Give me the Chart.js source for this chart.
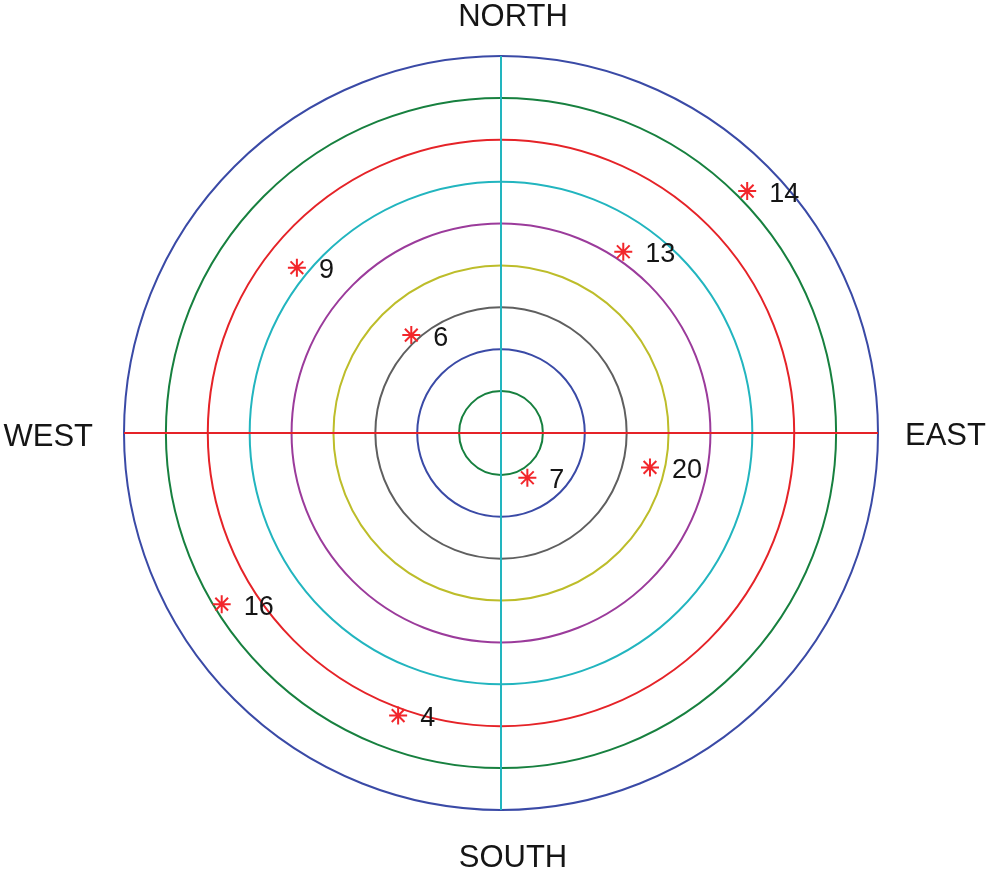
<!DOCTYPE html>
<html>
<head>
<meta charset="utf-8">
<script src="https://cdn.jsdelivr.net/npm/chart.js@4.4.1/dist/chart.umd.min.js"></script>
<style>
  html, body { margin: 0; padding: 0; background: #fff; }
  #wrap { width: 988px; height: 872px; }
</style>
</head>
<body>
<div id="wrap"><canvas id="polarChart"></canvas></div>
<script>
// compass labels, clockwise from the top
const directions = ['NORTH', 'EAST', 'SOUTH', 'WEST'];

// range rings 1..9, colours from the inner ring outward
const ringColors = ['#17803f', '#3a4aa6', '#5f5f5f', '#bdbd2a', '#9b3b9b', '#22b5bf', '#e52328', '#17803f', '#3a4aa6'];

// targets: id, bearing (deg clockwise from north), range (ring units)
const targetIds = ['14', '13', '9', '6', '7', '20', '16', '4'];
const targetBearings = [45.5, 34, 309, 317.5, 149.5, 103, 238.5, 200];
const targetRanges = [8.24, 5.22, 6.27, 3.17, 1.24, 3.65, 7.82, 7.18];

// half-degree slots around the circle
const SLOTS = 720;
const slotOf = deg => Math.round(deg * SLOTS / 360) % SLOTS;

const labels = new Array(SLOTS).fill('');
const rangeData = new Array(SLOTS).fill(null);
targetBearings.forEach((b, i) => { rangeData[slotOf(b)] = targetRanges[i]; });

const FONT = '"Liberation Sans", Arial, Helvetica, sans-serif';

// numbers beside the stars + compass words
const labelPlugin = {
    id: 'targetLabels',
    afterDraw(chart) {
        const ctx = chart.ctx;
        const r = chart.scales.r;
        const meta = chart.getDatasetMeta(0);
        ctx.save();
        ctx.fillStyle = '#151515';
        ctx.textBaseline = 'middle';

        ctx.font = '27px ' + FONT;
        ctx.textAlign = 'left';
        targetIds.forEach((id, i) => {
            const pt = meta.data[slotOf(targetBearings[i])];
            ctx.fillText(id, pt.x + 22, pt.y + 3);
        });

        const R = r.drawingArea, cx = r.xCenter, cy = r.yCenter;
        ctx.font = '31px ' + FONT;
        ctx.textAlign = 'center';
        ctx.fillText(directions[0], cx + 12, cy - R - 39);
        ctx.fillText(directions[2], cx + 12, cy + R + 48);
        ctx.textAlign = 'left';
        ctx.fillText(directions[1], cx + R + 27, cy + 3);
        ctx.textAlign = 'right';
        ctx.fillText(directions[3], cx - R - 31, cy + 4);
        ctx.restore();
    }
};

new Chart(document.getElementById('polarChart'), {
    type: 'radar',
    data: {
        labels: labels,
        datasets: [{
            data: rangeData,
            showLine: false,
            pointStyle: 'star',
            pointRadius: 9,
            pointBorderWidth: 2,
            pointBorderColor: '#f2262b',
            pointBackgroundColor: '#f2262b'
        }]
    },
    options: {
        responsive: true,
        maintainAspectRatio: false,
        animation: false,
        events: [],
        layout: { padding: { left: 124, right: 110, top: 56, bottom: 62 } },
        plugins: { legend: { display: false }, tooltip: { enabled: false } },
        scales: {
            r: {
                min: 0,
                max: 9,
                ticks: { display: false, stepSize: 1 },
                pointLabels: { display: false },
                grid: {
                    circular: true,
                    lineWidth: 2,
                    color: c => ringColors[c.index - 1] || 'transparent'
                },
                angleLines: {
                    display: true,
                    lineWidth: c => (c.index % (SLOTS / 4) === 0 ? 2 : 0),
                    color: c => (c.index % (SLOTS / 2) === 0 ? '#22b5bf' : '#e52328')
                }
            }
        }
    },
    plugins: [labelPlugin]
});
</script>
</body>
</html>
